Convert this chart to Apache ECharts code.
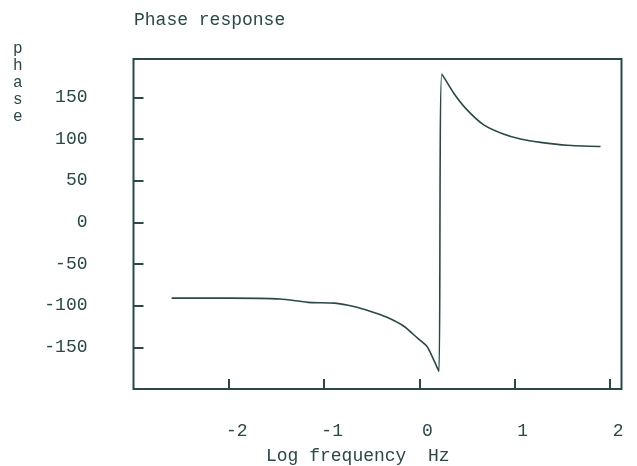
<!DOCTYPE html>
<html>
<head>
<meta charset="utf-8">
<script src="https://cdn.jsdelivr.net/npm/echarts@6/dist/echarts.min.js"></script>
<style>
  html, body { margin: 0; padding: 0; background: #fff; }
  #chart { width: 637px; height: 466px; }
</style>
</head>
<body>
<div id="chart"></div>
<script>
// log frequency (Hz) and phase (degrees)
var logFreq = [-2.60, -2.0, -1.46, -1.17, -0.89, -0.69, -0.51, -0.34, -0.16, -0.02, 0.08, 0.15, 0.205,
               0.235, 0.36, 0.50, 0.675, 0.88, 1.06, 1.27, 1.55, 1.90];
var phase = [-91, -91, -92, -96, -97, -101, -107, -114, -125, -139, -149, -165, -179,
             178, 155, 135, 117, 106, 100, 96, 92.5, 91];
var yTicks = [-150, -100, -50, 0, 50, 100, 150];
var xTicks = [-2, -1, 0, 1, 2];

var ink = '#2a4848';
var mono = '"Liberation Mono", "DejaVu Sans Mono", monospace';

var points = logFreq.map(function (x, i) { return [x, phase[i]]; });

var chart = echarts.init(document.getElementById('chart'));
chart.setOption({
  animation: false,
  backgroundColor: '#fff',
  title: [{
    text: 'Phase response',
    left: 134, top: 11, padding: 0,
    textStyle: { fontFamily: mono, fontSize: 18, fontWeight: 'normal', color: ink }
  }, {
    text: 'p\nh\na\ns\ne',
    left: 13, top: 40, padding: 0,
    textStyle: { fontFamily: mono, fontSize: 16, fontWeight: 'normal', color: ink, lineHeight: 17 }
  }, {
    text: 'Log frequency  Hz',
    left: 266, top: 447, padding: 0,
    textStyle: { fontFamily: mono, fontSize: 18, fontWeight: 'normal', color: ink }
  }],
  grid: {
    left: 133.5, right: 15.5, top: 59, height: 330,
    show: true, borderColor: ink, borderWidth: 2, backgroundColor: 'transparent'
  },
  xAxis: {
    type: 'value', min: -3, max: 2.12, interval: 1,
    axisLine: { show: false, onZero: false },
    splitLine: { show: false },
    axisTick: {
      inside: true, length: 10, lineStyle: { color: ink, width: 2 },
      customValues: xTicks
    },
    axisLabel: {
      customValues: xTicks,
      margin: 33, padding: [0, 0, 0, 16],
      fontFamily: mono, fontSize: 18, color: ink
    }
  },
  yAxis: {
    type: 'value', min: -200, max: 196, interval: 50,
    axisLine: { show: false, onZero: false },
    splitLine: { show: false },
    axisTick: {
      inside: true, length: 10, lineStyle: { color: ink, width: 2 },
      customValues: yTicks
    },
    axisLabel: {
      customValues: yTicks,
      margin: 46, padding: [0, 0, 8, 0],
      fontFamily: mono, fontSize: 18, color: ink
    }
  },
  series: [{
    type: 'line',
    data: points,
    showSymbol: false,
    smooth: 0.2,
    lineStyle: { color: ink, width: 1.6 }
  }]
});
</script>
</body>
</html>
